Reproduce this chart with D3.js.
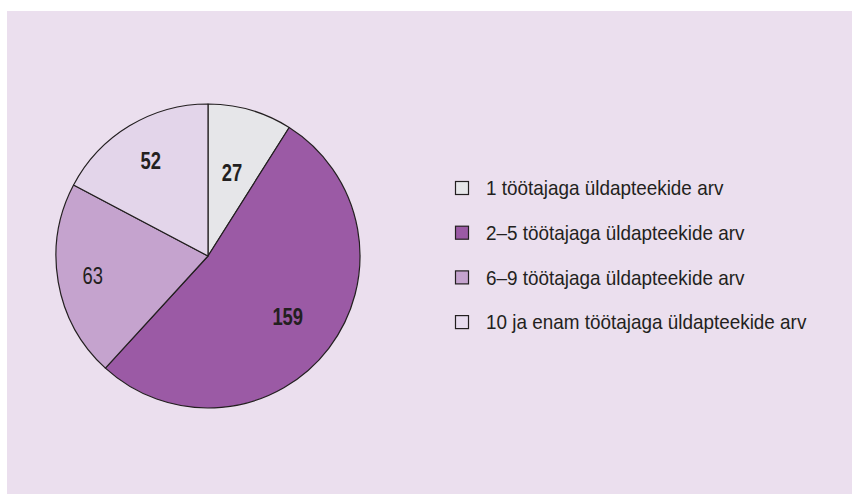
<!DOCTYPE html>
<html>
<head>
<meta charset="utf-8">
<script src="https://cdn.jsdelivr.net/npm/d3@7"></script>
<style>
  html, body { margin: 0; padding: 0; background: #ffffff; }
  svg { display: block; }
  text { font-family: "Liberation Sans", Arial, sans-serif; fill: #231f20; }
</style>
</head>
<body>
<svg id="chart" width="852" height="494"></svg>
<script>
// data, clockwise from 12 o'clock
let categories = [
  "1 töötajaga üldapteekide arv",
  "2–5 töötajaga üldapteekide arv",
  "6–9 töötajaga üldapteekide arv",
  "10 ja enam töötajaga üldapteekide arv"
];
let values = [27, 159, 63, 52];

// styling kept apart from the data
let colors = ["#e6e6e9", "#9b5aa5", "#c5a3ce", "#e3d5ea"];
let legendColors = ["#e6e6e9", "#9b5aa5", "#c5a3ce", "#e8dcef"];
let labelBold = [true, true, false, true];
let labelRadius = [0.57, 0.66, 0.77, 0.73]; // fraction of pie radius

let width = 852;
let height = 494;
let svg = d3.select("#chart");

// panel background
svg.append("rect")
  .attr("x", 7)
  .attr("y", 11)
  .attr("width", width - 7)
  .attr("height", height - 11)
  .attr("fill", "#ebdfee");

let cx = 208;
let cy = 256;
let radius = 152;

let pie = d3.pie().sort(null).value(d => d)(values);
let arc = d3.arc().innerRadius(0).outerRadius(radius);

let g = svg.append("g").attr("transform", "translate(" + cx + "," + cy + ")");

g.selectAll("path")
  .data(pie)
  .enter().append("path")
  .attr("d", arc)
  .attr("fill", (d, i) => colors[i])
  .attr("stroke", "#231f20")
  .attr("stroke-width", 1.2)
  .attr("stroke-linejoin", "round");

// value labels, squeezed to look like a condensed face
g.selectAll("text.val")
  .data(pie)
  .enter().append("text")
  .attr("class", "val")
  .attr("transform", function (d, i) {
    let r = radius * labelRadius[i];
    let c = d3.arc().innerRadius(r).outerRadius(r).centroid(d);
    return "translate(" + c[0] + "," + c[1] + ") scale(0.8,1)";
  })
  .attr("text-anchor", "middle")
  .attr("dy", "0.35em")
  .style("font-size", "23px")
  .style("font-weight", (d, i) => labelBold[i] ? "bold" : "normal")
  .text(d => d.data);

// legend
let legendX = 455;
let legendY = 188;
let legendStep = 44.7;
let rows = svg.append("g").selectAll("g")
  .data(categories)
  .enter().append("g")
  .attr("transform", (d, i) => "translate(" + legendX + "," + (legendY + i * legendStep) + ")");

rows.append("rect")
  .attr("x", 0.5)
  .attr("y", -6.5)
  .attr("width", 13)
  .attr("height", 13)
  .attr("fill", (d, i) => legendColors[i])
  .attr("stroke", "#231f20")
  .attr("stroke-width", 1.2);

rows.append("text")
  .attr("transform", "translate(31,0) scale(0.9,1)")
  .attr("dy", "0.35em")
  .style("font-size", "21px")
  .text(d => d);
</script>
</body>
</html>
